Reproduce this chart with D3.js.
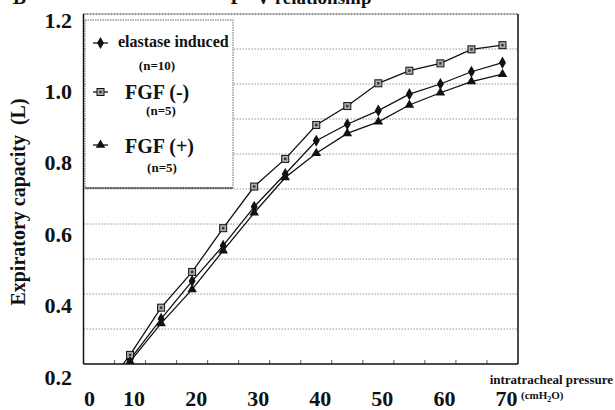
<!DOCTYPE html>
<html>
<head>
<meta charset="utf-8">
<script src="https://cdn.jsdelivr.net/npm/d3@7"></script>
<style>
  body { margin: 0; background: #fff; }
  text { font-family: "Liberation Serif", "Times New Roman", serif; font-weight: bold; fill: #111; }
</style>
</head>
<body>
<svg id="chart" width="615" height="410"></svg>
<script>
// intratracheal pressure (cmH2O), one category per measurement
var pressures = [5, 10, 15, 20, 25, 30, 35, 40, 45, 50, 55, 60, 65, 70];

// expiratory capacity (L)
var elastase = [0.09, 0.213, 0.329, 0.437, 0.538, 0.649, 0.743, 0.838, 0.885, 0.924, 0.971, 1.000, 1.035, 1.061];
var fgfMinus = [0.11, 0.226, 0.361, 0.463, 0.588, 0.707, 0.786, 0.883, 0.937, 1.002, 1.038, 1.059, 1.099, 1.111];
var fgfPlus = [0.085, 0.207, 0.316, 0.413, 0.524, 0.632, 0.733, 0.802, 0.859, 0.892, 0.940, 0.975, 1.007, 1.028];

var xTickLabels = [0, 10, 20, 30, 40, 50, 60, 70];
var yTickLabels = [0.2, 0.4, 0.6, 0.8, 1.0, 1.2];

var legendRows = [
  {name: 'elastase induced', n: '(n=10)', symbol: 'diamond'},
  {name: 'FGF (-)', n: '(n=5)', symbol: 'square'},
  {name: 'FGF (+)', n: '(n=5)', symbol: 'triangle'}
];

var plot = {left: 83.5, right: 518, top: 14, bottom: 364};

var svg = d3.select('#chart');

var x = d3.scalePoint()
  .domain(pressures)
  .range([plot.left, plot.right])
  .padding(0.5);

var y = d3.scaleLinear()
  .domain([0.2, 1.2])
  .range([plot.bottom, plot.top]);

// the printed tick labels sit a little off the grid in the original figure
var yLabel = d3.scaleLinear()
  .domain([0.2, 1.2])
  .range([377, 20]);

svg.append('defs').append('clipPath')
  .attr('id', 'plotClip')
  .append('rect')
  .attr('x', plot.left)
  .attr('y', plot.top)
  .attr('width', plot.right - plot.left)
  .attr('height', plot.bottom - plot.top);

// gridlines
svg.append('g')
  .selectAll('line')
  .data(y.ticks(10).filter(function(d) { return d > 0.21 && d < 1.19; }))
  .enter()
  .append('line')
  .attr('x1', plot.left)
  .attr('x2', plot.right)
  .attr('y1', function(d) { return y(d); })
  .attr('y2', function(d) { return y(d); })
  .attr('stroke', '#888')
  .attr('stroke-width', 0.9)
  .attr('stroke-dasharray', '1.5,1.5');

// category boundary ticks along the bottom
svg.append('g')
  .selectAll('line')
  .data(pressures.slice(1))
  .enter()
  .append('line')
  .attr('x1', function(d) { return x(d) - x.step() / 2; })
  .attr('x2', function(d) { return x(d) - x.step() / 2; })
  .attr('y1', plot.bottom)
  .attr('y2', plot.bottom - 4)
  .attr('stroke', '#333')
  .attr('stroke-width', 0.8);

// series
var series = [
  {values: elastase, symbol: 'diamond'},
  {values: fgfMinus, symbol: 'square'},
  {values: fgfPlus, symbol: 'triangle'}
];

var line = d3.line()
  .x(function(d, i) { return x(pressures[i]); })
  .y(function(d) { return y(d); });

function drawMarker(sel, type) {
  if (type === 'square') {
    sel.append('rect')
      .attr('x', -3.5).attr('y', -3.5)
      .attr('width', 7).attr('height', 7)
      .attr('fill', '#aaa')
      .attr('stroke', '#111')
      .attr('stroke-width', 1);
    sel.append('rect')
      .attr('x', -1.2).attr('y', -1.2)
      .attr('width', 2.4).attr('height', 2.4)
      .attr('fill', '#333');
  }
  else {
    sel.append('path')
      .attr('d', d3.symbol()
        .type(type === 'diamond' ? d3.symbolDiamond : d3.symbolTriangle)
        .size(type === 'diamond' ? 42 : 40)())
      .attr('fill', '#111');
  }
}

var plotArea = svg.append('g').attr('clip-path', 'url(#plotClip)');

series.forEach(function(s) {
  plotArea.append('path')
    .datum(s.values)
    .attr('d', line)
    .attr('fill', 'none')
    .attr('stroke', '#111')
    .attr('stroke-width', 1.3);

  plotArea.selectAll(null)
    .data(s.values)
    .enter()
    .append('g')
    .attr('transform', function(d, i) {
      return 'translate(' + x(pressures[i]) + ',' + y(d) + ')';
    })
    .each(function() { drawMarker(d3.select(this), s.symbol); });
});

// frame
svg.append('line')
  .attr('x1', plot.left).attr('x2', plot.right)
  .attr('y1', plot.top).attr('y2', plot.top)
  .attr('stroke', '#222').attr('stroke-width', 1.2)
  .attr('stroke-dasharray', '2,1');
svg.append('line')
  .attr('x1', plot.left).attr('x2', plot.right)
  .attr('y1', plot.bottom).attr('y2', plot.bottom)
  .attr('stroke', '#111').attr('stroke-width', 1.3);
[plot.left, plot.right].forEach(function(px) {
  svg.append('line')
    .attr('x1', px).attr('x2', px)
    .attr('y1', plot.top).attr('y2', plot.bottom)
    .attr('stroke', '#111').attr('stroke-width', 1.5);
});

// legend
var legend = svg.append('g');
legend.append('rect')
  .attr('x', 85).attr('y', 20)
  .attr('width', 148).attr('height', 168)
  .attr('fill', '#fff')
  .attr('stroke', '#555')
  .attr('stroke-width', 0.9)
  .attr('stroke-dasharray', '1.5,1');
legend.append('line')
  .attr('x1', 85).attr('x2', 233)
  .attr('y1', 188).attr('y2', 188)
  .attr('stroke', '#222').attr('stroke-width', 1.1);

var legendPos = [
  {line: 43, name: 47, n: 70, nx: 157, size: 16},
  {line: 92, name: 99, n: 115, nx: 161, size: 20},
  {line: 145, name: 153, n: 172, nx: 162, size: 20}
];

legendRows.forEach(function(r, i) {
  var p = legendPos[i];
  legend.append('line')
    .attr('x1', 93).attr('x2', 108)
    .attr('y1', p.line).attr('y2', p.line)
    .attr('stroke', '#111').attr('stroke-width', 1.3);
  var m = legend.append('g').attr('transform', 'translate(100.5,' + p.line + ')');
  drawMarker(m, r.symbol);
  legend.append('text')
    .attr('x', i === 0 ? 118 : 125)
    .attr('y', p.name)
    .style('font-size', p.size + 'px')
    .text(r.name);
  legend.append('text')
    .attr('x', p.nx)
    .attr('y', p.n)
    .attr('text-anchor', 'middle')
    .style('font-size', '13px')
    .text(r.n);
});

// y axis labels
var yAxis = svg.append('g')
  .attr('transform', 'translate(72,0)')
  .call(d3.axisLeft(yLabel).tickValues(yTickLabels).tickSize(0).tickPadding(0)
    .tickFormat(d3.format('.1f')));
yAxis.select('.domain').remove();
yAxis.selectAll('text')
  .attr('fill', '#111')
  .style('font-size', '22px')
  .style('font-family', '"Liberation Serif", serif')
  .style('font-weight', 'bold');

// x axis labels: 0 drawn at the origin, the rest near their categories
svg.append('g')
  .selectAll('text')
  .data(xTickLabels)
  .enter()
  .append('text')
  .attr('x', function(d) { return d === 0 ? plot.left + 6 : x(d) + 4; })
  .attr('y', 406)
  .attr('text-anchor', 'middle')
  .style('font-size', '22px')
  .text(function(d) { return d; });

svg.append('text')
  .attr('x', 613)
  .attr('y', 384)
  .attr('text-anchor', 'end')
  .style('font-size', '13px')
  .text('intratracheal pressure');

var unit = svg.append('text')
  .attr('x', 521)
  .attr('y', 399)
  .style('font-size', '11px');
unit.append('tspan').text('(cmH');
unit.append('tspan').attr('dy', 3).style('font-size', '8px').text('2');
unit.append('tspan').attr('dy', -3).text('O)');

svg.append('text')
  .attr('transform', 'translate(25,202) rotate(-90)')
  .attr('text-anchor', 'middle')
  .style('font-size', '20px')
  .text('Expiratory capacity\u00a0\u00a0(L)');

svg.append('text')
  .attr('x', 301)
  .attr('y', 4)
  .attr('text-anchor', 'middle')
  .style('font-size', '19px')
  .text('P - V relationship');

svg.append('text')
  .attr('x', 13)
  .attr('y', 4)
  .style('font-size', '20px')
  .style('font-style', 'italic')
  .text('B');
</script>
</body>
</html>
